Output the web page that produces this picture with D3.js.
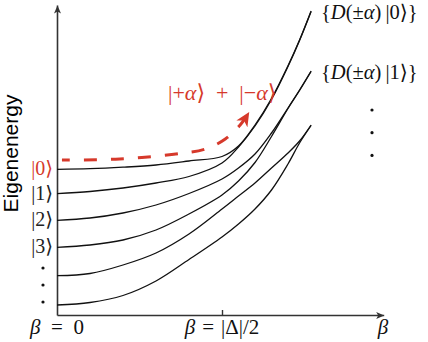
<!DOCTYPE html>
<html><head><meta charset="utf-8">
<script src="https://cdn.jsdelivr.net/npm/d3@7"></script>
<style>
html,body{margin:0;padding:0;background:#fff;}
svg{display:block;}
</style></head>
<body>
<svg id="chart" width="428" height="342"></svg>
<script>
// ---- data ----
const betaGrid = [0, 0.2, 0.4, 0.6, 0.8, 1.0, 1.1, 1.2, 1.3, 1.4, 1.47, 1.54];
const level0 = [14.57, 14.63, 14.78, 15.0, 15.4, 15.85, 16.9, 19.0, 21.65, 24.93, 27.5, 30.4];
const level1 = [12.13, 12.35, 12.7, 13.2, 13.85, 15.2, 16.8, 18.9, 21.55, 24.85, 27.45, 30.35];
const level2 = [9.47, 9.7, 10.2, 11.0, 12.15, 13.6, 14.7, 16.1, 18.2, 20.7, 22.5, 24.4];
const level3 = [6.77, 7.0, 7.5, 8.5, 10.1, 12.0, 13.4, 15.25, 17.85, 20.65, 22.45, 24.35];
const level4 = [3.93, 4.15, 5.0, 6.2, 8.1, 10.6, 11.9, 13.2, 14.7, 16.2, 17.4, 19.0];
const level5 = [1.0, 1.25, 1.95, 3.4, 5.55, 7.8, 9.1, 10.6, 12.5, 15.1, 17.2, 18.95];
const levels = [level0, level1, level2, level3, level4, level5];
const catBeta = [0.03, 0.38, 0.745, 0.9, 1.02, 1.11, 1.165];
const catE = [15.5, 15.6, 16.15, 16.6, 17.6, 19.0, 20.3];
const ketLabels = ["0", "1", "2", "3"];
const xTicks = [1];

const red = "#d6392b";
const svg = d3.select("#chart");
const x = d3.scaleLinear().domain([0, 1.98]).range([57, 383.7]);
const y = d3.scaleLinear().domain([0, 31]).range([315, 5]);

const defs = svg.append("defs");
defs.append("marker").attr("id", "axArrow").attr("markerUnits", "userSpaceOnUse")
  .attr("viewBox", "-8 -4 9 8").attr("refX", 0).attr("refY", 0)
  .attr("markerWidth", 9).attr("markerHeight", 8).attr("orient", "auto")
  .append("path").attr("d", "M0,0L-8,-3.5L-6,0L-8,3.5Z").attr("fill", "#333");
defs.append("marker").attr("id", "redArrow").attr("markerUnits", "userSpaceOnUse")
  .attr("viewBox", "-14 -7 15 14").attr("refX", 0).attr("refY", 0)
  .attr("markerWidth", 15).attr("markerHeight", 14).attr("orient", "auto")
  .append("path").attr("d", "M0,0L-14,-6.5L-10,0L-14,6.5Z").attr("fill", red);

// axes
const xAxis = svg.append("g").attr("transform", `translate(0,${y(0)})`)
  .call(d3.axisBottom(x).tickValues(xTicks).tickSizeInner(-5).tickSizeOuter(0).tickFormat(""));
xAxis.select(".domain").attr("stroke", "#333").attr("stroke-width", 1.6).attr("marker-end", "url(#axArrow)");
xAxis.selectAll(".tick line").attr("stroke", "#333").attr("stroke-width", 1.4);

const yAxis = svg.append("g").attr("transform", `translate(${x(0)},0)`)
  .call(d3.axisLeft(y).tickValues([]).tickSizeOuter(0));
yAxis.select(".domain").attr("stroke", "#333").attr("stroke-width", 1.6).attr("marker-end", "url(#axArrow)");

// curves
const line = d3.line().x(d => x(d[0])).y(d => y(d[1])).curve(d3.curveCatmullRom.alpha(0.5));
svg.append("g").selectAll("path").data(levels).join("path")
  .attr("d", vals => line(betaGrid.map((b, i) => [b, vals[i]])))
  .attr("fill", "none").attr("stroke", "#111").attr("stroke-width", 1.3);

// red dashed cat-state path
svg.append("path")
  .attr("d", line(catBeta.map((b, i) => [b, catE[i]])))
  .attr("fill", "none").attr("stroke", red).attr("stroke-width", 3)
  .attr("stroke-dasharray", "13,14").attr("stroke-dashoffset", 5)
  .attr("marker-end", "url(#redArrow)");

// math text helper
const serif = "'Liberation Serif','DejaVu Serif',serif";
function mathText(parent, xx, yy, parts, opts) {
  const t = parent.append("text").attr("x", xx).attr("y", yy)
    .attr("font-family", serif).attr("font-size", opts.size)
    .attr("fill", opts.color || "#111").attr("text-anchor", opts.anchor || "start");
  parts.forEach(p => {
    t.append("tspan").text(p[0]).attr("font-style", p[1] ? "italic" : "normal");
  });
  return t;
}
const sp = "\u2002", sp3 = "\u2004";

// y axis title
svg.append("text").attr("transform", "translate(18,153.5) rotate(-90)")
  .attr("text-anchor", "middle").attr("font-family", "'Liberation Sans',Arial,sans-serif")
  .attr("font-size", 21).attr("fill", "#000").text("Eigenenergy");

// ket labels on the left
ketLabels.forEach((k, i) => {
  mathText(svg, 53, y(levels[i][0]) + 6, [["|" + k + "\u27E9", false]],
    {size: 20, anchor: "end", color: i === 0 ? red : "#222"});
});
[0, 1, 2].forEach(i => {
  svg.append("circle").attr("cx", 43).attr("cy", 268 + i * 17).attr("r", 1.6).attr("fill", "#111");
});

// x labels
mathText(svg, x(0), 334, [["\u03B2", true], [sp + "=" + sp + "0", false]], {size: 21, anchor: "middle"});
mathText(svg, x(1), 334, [["\u03B2", true], [sp3 + "=" + sp3 + "|\u0394|/2", false]], {size: 21, anchor: "middle"});
mathText(svg, 383, 334, [["\u03B2", true]], {size: 21, anchor: "middle"});

// right labels
mathText(svg, 321, 19, [["{", false], ["D", true], ["(\u00B1", false], ["\u03B1", true], [")\u2009|0\u27E9}", false]], {size: 20.5});
mathText(svg, 321, 79, [["{", false], ["D", true], ["(\u00B1", false], ["\u03B1", true], [")\u2009|1\u27E9}", false]], {size: 20.5});
[0, 1, 2].forEach(i => {
  svg.append("circle").attr("cx", 372).attr("cy", 110 + i * 22.7).attr("r", 1.6).attr("fill", "#111");
});

// red cat label
mathText(svg, 168, 100, [["|+", false], ["\u03B1", true], ["\u27E9" + sp + "+" + sp + "|\u2212", false], ["\u03B1", true], ["\u27E9", false]], {size: 22, color: red});
</script>
</body></html>
